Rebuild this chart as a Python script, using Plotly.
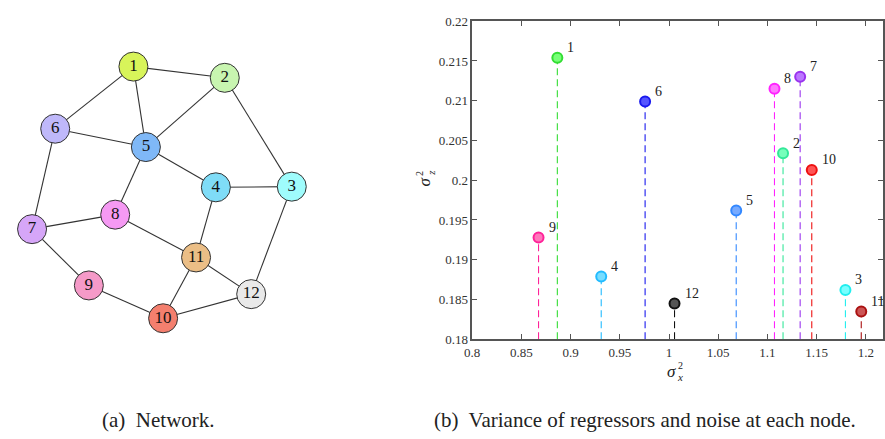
import plotly.graph_objects as go

# ---------------- data ----------------
# network (a)
node_ids = [1, 2, 3, 4, 5, 6, 7, 8, 9, 10, 11, 12]
node_x = [126.7, 219.0, 286.7, 210.0, 139.3, 47.7, 24.3, 108.3, 81.7, 156.7, 190.0, 245.7]
node_y = [61.7, 73.3, 186.0, 186.7, 145.0, 126.0, 230.0, 215.0, 288.3, 322.3, 259.3, 297.3]
node_colors = ['#d8f45a', '#c8f5b0', '#9ffcfc', '#7fdcf7', '#7fb8f7', '#bfb8fa',
               '#d6a6f8', '#f599f3', '#f59ac8', '#f47f6e', '#ebbe86', '#e9e9e9']
edges = [(1, 2), (1, 6), (1, 5), (2, 5), (2, 3), (6, 5), (6, 7), (5, 4), (5, 8),
         (4, 3), (4, 11), (8, 7), (8, 11), (7, 9), (9, 10), (10, 11), (10, 12),
         (11, 12), (3, 12)]

# stem plot (b)
sigma_x2 = [0.8865, 1.1159, 1.1793, 0.9311, 1.0683, 0.9757, 1.1333, 1.1072, 0.8674, 1.1451, 1.1954, 1.0056]
sigma_z2 = [0.2154, 0.2034, 0.1862, 0.1879, 0.1962, 0.2099, 0.2130, 0.2115, 0.1928, 0.2013, 0.1835, 0.1845]
stem_colors = ['#33dd33', '#33e899', '#22eeee', '#22bbff', '#3388ff', '#1a1aee',
               '#9933ee', '#ff22ff', '#ff2299', '#ee1111', '#aa1111', '#111111']
stem_fill = ['#77ff77', '#77ffbb', '#77ffff', '#77ddff', '#77aaff', '#5555ff',
             '#bb77ff', '#ff77ff', '#ff77bb', '#ff5555', '#cc5555', '#555555']
x_ticks = [0.8, 0.85, 0.9, 0.95, 1.0, 1.05, 1.1, 1.15, 1.2]
x_ticklabels = ['0.8', '0.85', '0.9', '0.95', '1', '1.05', '1.1', '1.15', '1.2']
y_ticks = [0.18, 0.185, 0.19, 0.195, 0.2, 0.205, 0.21, 0.215, 0.22]
y_ticklabels = ['0.18', '0.185', '0.19', '0.195', '0.2', '0.205', '0.21', '0.215', '0.22']
y_base = 0.18

SERIF = 'Liberation Serif'
W, H = 885, 439

fig = go.Figure()

# ---------- network ----------
ex, ey = [], []
for a, b in edges:
    ex += [node_x[a - 1], node_x[b - 1], None]
    ey += [node_y[a - 1], node_y[b - 1], None]
fig.add_trace(go.Scatter(x=ex, y=ey, mode='lines', line=dict(color='#333333', width=1.1),
                         xaxis='x2', yaxis='y2', showlegend=False, hoverinfo='skip'))
fig.add_trace(go.Scatter(x=node_x, y=node_y, mode='markers+text', text=[str(i) for i in node_ids],
                         textposition='middle center',
                         textfont=dict(family=SERIF, size=17, color='#111111'),
                         marker=dict(size=29, color=node_colors, line=dict(color='#333333', width=1)),
                         xaxis='x2', yaxis='y2', showlegend=False))

# ---------- stems ----------
for i in range(len(node_ids)):
    fig.add_trace(go.Scatter(x=[sigma_x2[i], sigma_x2[i]], y=[y_base, sigma_z2[i]], mode='lines',
                             line=dict(color=stem_colors[i], width=1.1, dash='7px,4px'),
                             showlegend=False, hoverinfo='skip', cliponaxis=False))
for i in range(len(node_ids)):
    fig.add_trace(go.Scatter(x=[sigma_x2[i]], y=[sigma_z2[i]], mode='markers',
                             marker=dict(size=10, color=stem_fill[i],
                                         line=dict(color=stem_colors[i], width=2)),
                             showlegend=False, cliponaxis=False))
    fig.add_annotation(x=sigma_x2[i], y=sigma_z2[i], text=str(node_ids[i]), showarrow=False,
                       xanchor='left', yanchor='middle', xshift=8, yshift=10,
                       font=dict(family=SERIF, size=14, color='#222222'))

axis_common = dict(showline=True, linecolor='#555555', linewidth=1.5, mirror='ticks',
                   ticks='inside', ticklen=5, tickcolor='#555555', tickwidth=1,
                   showgrid=False, zeroline=False,
                   tickfont=dict(family=SERIF, size=13, color='#333333'))

x0, x1 = 469, 884
fig.update_layout(
    width=W, height=H, margin=dict(l=0, r=0, t=0, b=0),
    paper_bgcolor='white', plot_bgcolor='white',
    xaxis=dict(domain=[x0 / W, x1 / W], range=[0.8, 0.8 + (x1 - x0) / 994.0],
               tickvals=x_ticks, ticktext=x_ticklabels, anchor='y', **axis_common),
    yaxis=dict(domain=[1 - 344 / H, 1 - 14.7 / H], range=[0.18, 0.22],
               tickvals=y_ticks, ticktext=y_ticklabels, anchor='x', **axis_common),
    xaxis2=dict(domain=[0, 354 / W], range=[0, 354], visible=False, anchor='y2'),
    yaxis2=dict(domain=[0, 1], range=[H, 0], visible=False, anchor='x2'),
)


def txt(px, py, text, size, angle=0):
    fig.add_annotation(x=px / W, y=1 - py / H, xref='paper', yref='paper', text=text,
                       showarrow=False, xanchor='center', yanchor='middle', textangle=angle,
                       font=dict(family=SERIF, size=size, color='#222'))


# axis titles (sigma with stacked sup/sub)
txt(670, 377, '<i>σ</i>', 17)
txt(679, 371, '2', 10)
txt(679, 383, '<i>x</i>', 11)

txt(421, 181, '<i>σ</i>', 17, -90)
txt(415, 172, '2', 10, -90)
txt(427, 172, '<i>z</i>', 11, -90)

# captions
txt(152, 428, '(a)\u00a0 Network.', 21)
txt(644, 428, '(b)\u00a0 Variance of regressors and noise at each node.', 21)

fig.write_html('out.html')
